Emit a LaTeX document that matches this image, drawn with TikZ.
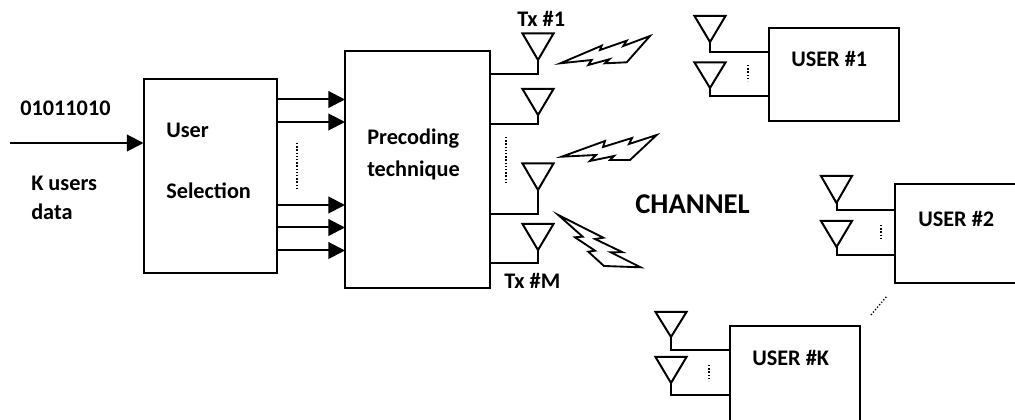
\documentclass[tikz,border=0pt]{standalone}
\usepackage{fontspec}
\setmainfont{Carlito}
\usetikzlibrary{arrows.meta}
\tikzset{
  x=0.75pt,y=-0.75pt,
  line/.style={line width=1.5pt,line join=miter},
  blockbox/.style={draw,line width=1.5pt,anchor=north west,inner sep=0pt,outer sep=0pt},
  label/.style={font=\fontsize{16.7pt}{18pt}\selectfont\bfseries,inner sep=0pt,anchor=base west},
  bigarrow/.style={line width=1.5pt,-{Triangle[length=12.5pt,width=12.5pt]},shorten >=0pt},
  dotline/.style={line width=1pt,dash pattern=on 1pt off 1.4pt},
  bolt/.style={line width=1.4pt,line join=miter,fill=white}
}
% name, tip x, top y, tip y
\newcommand{\antenna}[4]{%
  \coordinate (#1) at (#2,#4);
  \draw[line] (#2-15.5,#3) -- (#2+15.5,#3) -- (#1) -- cycle;
}
\begin{document}
\begin{tikzpicture}
\useasboundingbox (0,0) rectangle (1015,420);
% blocks
\node[blockbox,minimum width=99.75pt,minimum height=145.5pt] (sel) at (143.5,79) {};
\node[blockbox,minimum width=108.75pt,minimum height=177.75pt] (pre) at (345,51) {};
\node[blockbox,minimum width=97.5pt,minimum height=69.75pt] (u1) at (769,28.5) {};
% blocks cut by the edge of the picture
\coordinate (u2a) at (1016,184); \coordinate (u2b) at (895,184);
\coordinate (u2c) at (895,283); \coordinate (u2d) at (1016,283);
\draw[line] (u2a) -- (u2b) -- (u2c) -- (u2d);
\coordinate (uka) at (730,421); \coordinate (ukb) at (730,326);
\coordinate (ukc) at (860,326); \coordinate (ukd) at (860,421);
\draw[line] (uka) -- (ukb) -- (ukc) -- (ukd);
% input
\coordinate (in) at (10,143);
\draw[bigarrow] (in) -- (sel.west |- in);
% selection to precoding
\foreach \n/\y in {a/99.5,b/122,c/205,d/227.5,e/250.5}{
  \coordinate (s\n) at (276.5,\y);
  \draw[bigarrow] (s\n) -- (pre.west |- s\n);
}
% transmit antennas
\antenna{tx1}{538}{33.5}{60}
\antenna{tx2}{538}{89}{115}
\antenna{tx3}{538}{163.5}{190}
\antenna{tx4}{538}{224}{250}
\coordinate (t1) at (538,74); \coordinate (t2) at (538,124);
\coordinate (t3) at (538,214); \coordinate (t4) at (538,263.5);
\draw[line] (tx1) -- (t1) -- (pre.east |- t1);
\draw[line] (tx2) -- (t2) -- (pre.east |- t2);
\draw[line] (tx3) -- (t3) -- (pre.east |- t3);
\draw[line] (tx4) -- (t4) -- (pre.east |- t4);
% user antennas
\antenna{ua}{710}{16}{42}
\antenna{ub}{710}{62.5}{88}
\coordinate (ua1) at (710,52); \coordinate (ub1) at (710,96.5);
\draw[line] (ua) -- (ua1) -- (u1.west |- ua1);
\draw[line] (ub) -- (ub1) -- (u1.west |- ub1);
\antenna{va}{836.5}{176}{203}
\antenna{vb}{836.5}{221}{247}
\coordinate (va1) at (836.5,210.5); \coordinate (vb1) at (836.5,255);
\draw[line] (va) -- (va1) -- (u2b |- va1);
\draw[line] (vb) -- (vb1) -- (u2b |- vb1);
\antenna{wa}{671}{312}{337}
\antenna{wb}{671}{357}{383}
\coordinate (wa1) at (671,350.5); \coordinate (wb1) at (671,395);
\draw[line] (wa) -- (wa1) -- (ukb |- wa1);
\draw[line] (wb) -- (wb1) -- (ukb |- wb1);
% lightning
\draw[bolt] (560.3,63.3) -- (601.7,45.7) -- (600,50) -- (626.7,40.7) -- (623.3,46) -- (650,36) -- (626.7,62.3) -- (605,63.3) -- (609.3,59.3) -- (588.3,65) -- (591.7,60) -- cycle;
\draw[bolt] (561.7,156.7) -- (605,141) -- (603,147) -- (632,138) -- (629,144) -- (656.7,135) -- (630,160) -- (610,160) -- (614,156) -- (590,161) -- (596,155) -- cycle;
\draw[bolt] (558.3,215) -- (603.3,237.7) -- (595,239) -- (622.7,252.3) -- (610.7,252.3) -- (640.7,267.3) -- (604,266) -- (588.3,251.7) -- (595,250.7) -- (575,237.3) -- (582.7,236.7) -- cycle;
% dots
\draw[dotline] (297,143) -- (297,188);
\draw[dotline] (506,137) -- (506,183);
\draw[dotline] (748,65) -- (748,81);
\draw[dotline] (881,225) -- (881,239);
\draw[dotline] (709,365) -- (709,381);
\draw[dotline] (871,315) -- (887,296);
% labels
\node[label] (t01) at (20,116) {01011010};
\node[label] (tk) at (31,191) {K users};
\node[label] (td) at (31,220) {data};
\node[label] (tu) at (166,138) {User};
\node[label] (ts) at (166,198.5) {Selection};
\node[label] (tp) at (367,145) {Precoding};
\node[label] (tt) at (367,177) {technique};
\node[label] (tx) at (517,27) {Tx \#1};
\node[label] (txm) at (504,289) {Tx \#M};
\node[label,font=\fontsize{21.5pt}{23pt}\selectfont\bfseries] (ch) at (635,214) {CHANNEL};
\node[label] (l1) at (791,67) {USER \#1};
\node[label] (l2) at (918,227) {USER \#2};
\node[label] (lk) at (752,366) {USER \#K};
\end{tikzpicture}
\end{document}
